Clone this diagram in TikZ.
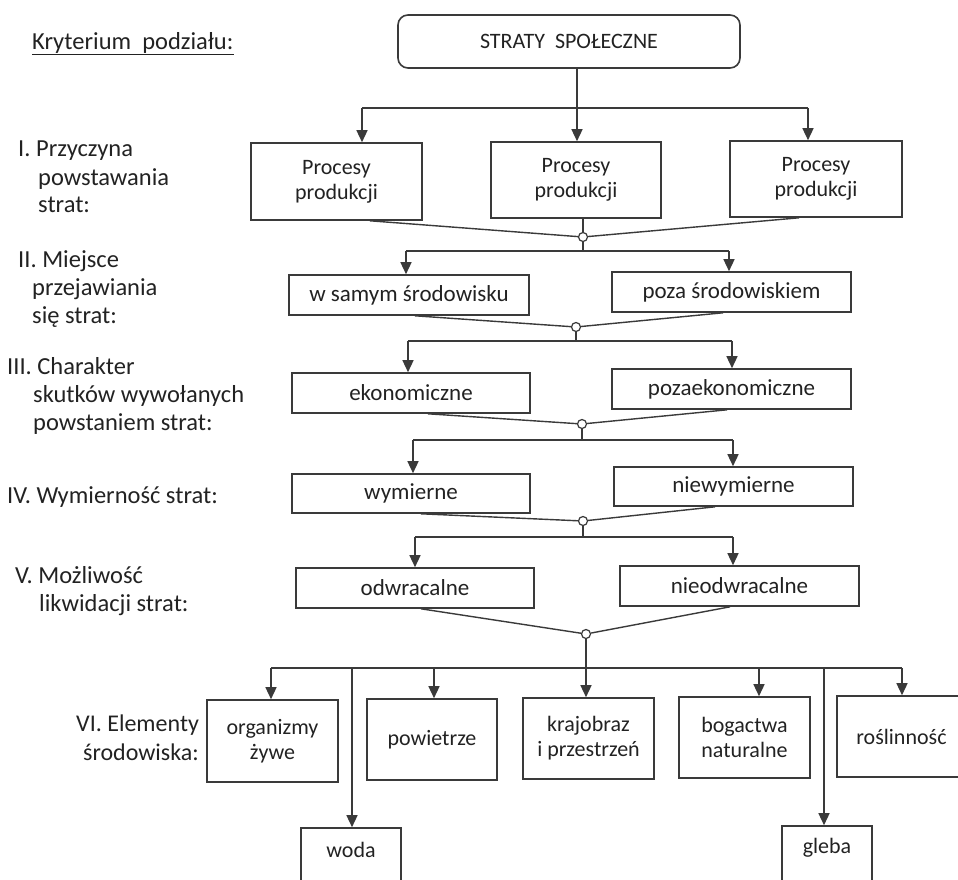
\documentclass[tikz,border=0pt]{standalone}
\usepackage{fontspec}
\setmainfont{Carlito}
\usetikzlibrary{arrows.meta}
\definecolor{ink}{HTML}{3A3A3A}
\definecolor{txt}{HTML}{222222}
\begin{document}
\begin{tikzpicture}[x=1pt,y=-1pt,
  ln/.style={draw=ink,line width=1.4pt},
  arr/.style={ln,-{Triangle[width=11pt,length=12pt]}},
  wh/.style 2 args={minimum width=#1pt,minimum height=#2pt},
  box/.style={draw=ink,line width=1.6pt,inner sep=0pt,align=center,text=txt,font=\fontsize{22pt}{25pt}\selectfont},
  bigbox/.style={box,font=\fontsize{23pt}{25pt}\selectfont},
  btxt/.style={inner sep=0pt,text=txt,font=\fontsize{22pt}{25pt}\selectfont},
  lab/.style={inner sep=0pt,anchor=base west,text=txt,font=\fontsize{24.5pt}{28pt}\selectfont},
  junc/.style={circle,draw=ink,fill=white,line width=1.2pt,minimum size=9pt,inner sep=0pt}]
\useasboundingbox (0,0) rectangle (958,880);
\clip (0,0) rectangle (958,880);

% ---- left labels
\node[lab] (kr) at (32,50) {Kryterium\ \ podziału:};
\draw[draw=txt,line width=1.2pt] ([yshift=-4.5pt]kr.base west) -- ([yshift=-4.5pt]kr.base east);
\node[lab] (l1a) at (18,157) {I. Przyczyna};
\node[lab] (l1b) at (38,185) {powstawania};
\node[lab] (l1c) at (38,212) {strat:};
\node[lab] (l2a) at (18,267) {II. Miejsce};
\node[lab] (l2b) at (32,295) {przejawiania};
\node[lab] (l2c) at (32,323) {się strat:};
\node[lab] (l3a) at (7,374) {III. Charakter};
\node[lab] (l3b) at (33,402) {skutków wywołanych};
\node[lab] (l3c) at (33,430) {powstaniem strat:};
\node[lab] (l4) at (7,503) {IV. Wymierność strat:};
\node[lab] (l5a) at (15,583) {V. Możliwość};
\node[lab] (l5b) at (39,611) {likwidacji strat:};
\node[lab,font=\fontsize{24pt}{28pt}\selectfont] (l6a) at (76,731) {VI. Elementy};
\node[lab,anchor=base east,font=\fontsize{24pt}{28pt}\selectfont] (l6b) at (199,760) {środowiska:};

% ---- boxes
\node[box,wh={342}{53},rounded corners=10pt] (strat) at (569,41.5) {STRATY\ \ SPOŁECZNE};
\node[box,wh={171}{77}] (p1) at (336.5,181.5) {Procesy\\produkcji};
\node[box,wh={170}{76}] (p2) at (576,180) {Procesy\\produkcji};
\node[box,wh={172}{76}] (p3) at (816,179) {Procesy\\produkcji};
\node[bigbox,wh={240}{40}] (ws) at (409,295) {w samym środowisku};
\node[bigbox,wh={239}{40}] (pz) at (731.5,292) {poza środowiskiem};
\node[bigbox,wh={238}{40}] (ek) at (411,393) {ekonomiczne};
\node[bigbox,wh={239}{40}] (pe) at (731.5,389) {pozaekonomiczne};
\node[bigbox,wh={238}{39}] (wy) at (411,493.5) {wymierne};
\node[bigbox,wh={239}{39}] (nw) at (733.5,486.5) {niewymierne};
\node[bigbox,wh={238}{40}] (od) at (415,588) {odwracalne};
\node[bigbox,wh={239}{40}] (no) at (739.5,586) {nieodwracalne};
\node[box,wh={131}{82}] (org) at (272.5,741) {organizmy\\żywe};
\node[box,wh={130}{81}] (pow) at (432,739.5) {powietrze};
\node[box,wh={131}{81}] (kra) at (588.5,738.5) {krajobraz\\i przestrzeń};
\node[box,wh={131}{81}] (bog) at (744.5,737.5) {bogactwa\\naturalne};
\node[box,wh={129}{81}] (ros) at (901.5,736.5) {roślinność};
\node[box,wh={100}{67}] (woda) at (351,861.5) {};
\node[btxt] (wodat) at ([yshift=-23pt]woda.north) {woda};
\node[box,wh={90}{69}] (gleba) at (827,860.5) {};
\node[btxt] (glebat) at ([yshift=-23pt]gleba.north) {gleba};

% ---- junction circles
\node[junc] (c1) at (583,237) {};
\node[junc] (c2) at (576,327) {};
\node[junc] (c3) at (582,424) {};
\node[junc] (c4) at (583,521) {};
\node[junc] (c5) at (586,634) {};

% ---- level 0 -> I
\coordinate (h0L) at (362,108);
\coordinate (h0M) at (577,108);
\coordinate (h0R) at (808,108);
\draw[ln] (strat.south -| h0M) -- (h0M);
\draw[ln] (h0L) -- (h0R);
\draw[arr] (h0L) -- (h0L |- p1.north);
\draw[arr] (h0M) -- (h0M |- p2.north);
\draw[arr] (h0R) -- (h0R |- p3.north);

% ---- I -> II
\draw[ln] (p1.south -| 370,0) -- (c1);
\draw[ln] (p2.south -| c1) -- (c1);
\draw[ln] (p3.south -| 799,0) -- (c1);
\coordinate (h1L) at (406,251);
\coordinate (h1R) at (729,251);
\draw[ln] (c1) -- (c1 |- h1L);
\draw[ln] (h1L) -- (h1R);
\draw[arr] (h1L) -- (h1L |- ws.north);
\draw[arr] (h1R) -- (h1R |- pz.north);

% ---- II -> III
\draw[ln] (ws.south -| 415,0) -- (c2);
\draw[ln] (pz.south -| 723,0) -- (c2);
\coordinate (h2L) at (408,341);
\coordinate (h2R) at (732,341);
\draw[ln] (c2) -- (c2 |- h2L);
\draw[ln] (h2L) -- (h2R);
\draw[arr] (h2L) -- (h2L |- ek.north);
\draw[arr] (h2R) -- (h2R |- pe.north);

% ---- III -> IV
\draw[ln] (ek.south -| 428,0) -- (c3);
\draw[ln] (pe.south -| 727,0) -- (c3);
\coordinate (h3L) at (413,440);
\coordinate (h3R) at (733,440);
\draw[ln] (c3) -- (c3 |- h3L);
\draw[ln] (h3L) -- (h3R);
\draw[arr] (h3L) -- (h3L |- wy.north);
\draw[arr] (h3R) -- (h3R |- nw.north);

% ---- IV -> V
\draw[ln] (wy.south -| 421,0) -- (c4);
\draw[ln] (nw.south -| 715,0) -- (c4);
\coordinate (h4L) at (415,537);
\coordinate (h4R) at (733,537);
\draw[ln] (c4) -- (c4 |- h4L);
\draw[ln] (h4L) -- (h4R);
\draw[arr] (h4L) -- (h4L |- od.north);
\draw[arr] (h4R) -- (h4R |- no.north);

% ---- V -> VI
\draw[ln] (od.south -| 421,0) -- (c5);
\draw[ln] (no.south -| 730,0) -- (c5);
\coordinate (h5L) at (271,668);
\coordinate (h5R) at (902,668);
\coordinate (dWo) at (352,668);
\coordinate (dPo) at (434,668);
\coordinate (dBo) at (759,668);
\coordinate (dGl) at (824,668);
\draw[ln] (h5L) -- (h5R);
\draw[arr] (c5) -- (c5 |- kra.north);
\draw[arr] (h5L) -- (h5L |- org.north);
\draw[arr] (dWo) -- (dWo |- woda.north);
\draw[arr] (dPo) -- (dPo |- pow.north);
\draw[arr] (dBo) -- (dBo |- bog.north);
\draw[arr] (dGl) -- (dGl |- gleba.north);
\draw[arr] (h5R) -- (h5R |- ros.north);
\end{tikzpicture}
\end{document}
